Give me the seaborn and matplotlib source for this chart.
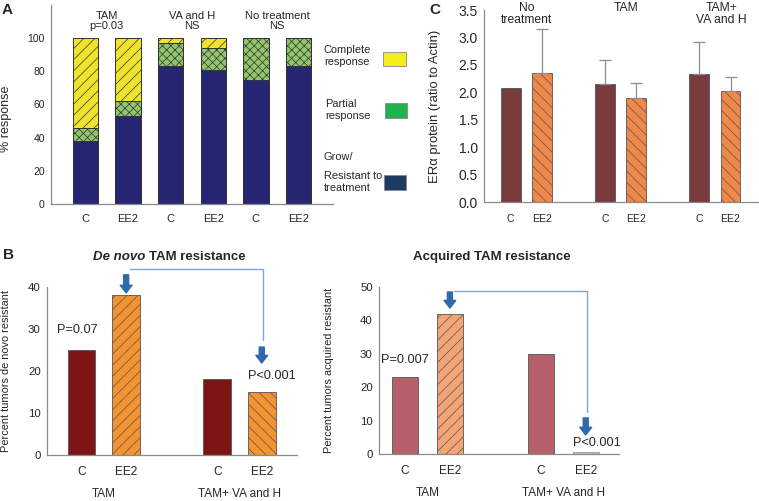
import numpy as np
import pandas as pd
import matplotlib
matplotlib.use('Agg')
import matplotlib.pyplot as plt
from matplotlib.patches import Rectangle
import seaborn as sns

# Panel A: response of tumours (% of animals), C = control diet, EE2 = EE2 diet
A_GROUPS = ['TAM', 'VA and H', 'No treatment']
A_NOTES = ['p=0.03', 'NS', 'NS']
A_DIETS = ['C', 'EE2']
A_RESISTANT = [38, 53, 83, 81, 75, 83]
A_PARTIAL = [8, 9, 14, 13, 25, 17]
A_COMPLETE = [54, 38, 3, 6, 0, 0]

# Panel C: ERa protein (ratio to actin), mean and upper error
C_GROUPS = ['No\ntreatment', 'TAM', 'TAM+\nVA and H']
C_CONTROL = [2.07, 2.15, 2.33]
C_EE2 = [2.35, 1.90, 2.03]
C_CONTROL_ERR = [0.0, 0.44, 0.58]
C_EE2_ERR = [0.80, 0.27, 0.25]

# Panel B: percent of tumours resistant
B_GROUPS = ['TAM', 'TAM+ VA and H']
B_DENOVO_C = [25, 18]
B_DENOVO_EE2 = [38, 15]
B_ACQUIRED_C = [23, 30]
B_ACQUIRED_EE2 = [42, 0.5]

sns.set_style('white')
plt.rcParams['font.family'] = ['Liberation Sans', 'DejaVu Sans']
plt.rcParams['hatch.linewidth'] = 0.5

W, H = 759, 501
fig = plt.figure(figsize=(W / 100, H / 100), dpi=100)

BLUE = '#2F6BAA'
LINE_BLUE = '#7FA6D4'
GREY = '#8a8a8a'


def add_axes_px(left, top, right, bottom):
    return fig.add_axes([left / W, 1 - bottom / H, (right - left) / W, (bottom - top) / H])


def fig_xy(x, y):
    return x / W, 1 - y / H


def style_axes(ax, ytick_size, xtick_size, xpad):
    sns.despine(ax=ax)
    for side in ['left', 'bottom']:
        ax.spines[side].set_color(GREY)
        ax.spines[side].set_linewidth(0.9)
    ax.tick_params(axis='y', length=3, width=0.8, color=GREY, labelsize=ytick_size, pad=1.5)
    ax.tick_params(axis='x', length=0, labelsize=xtick_size, pad=xpad)
    ax.set_xlabel('')


def pair_bars(ax, groups, control, treated, colours, width, gap):
    df = pd.DataFrame({'group': groups * 2,
                       'diet': ['C'] * len(groups) + ['EE2'] * len(groups),
                       'value': control + treated})
    sns.barplot(data=df, x='group', y='value', hue='diet', palette=colours,
                width=width, gap=gap, saturation=1, edgecolor='#555555',
                linewidth=0.6, legend=False, ax=ax)
    bars = sorted(ax.patches, key=lambda p: p.get_x())
    ax.set_xticks([p.get_x() + p.get_width() / 2 for p in bars])
    ax.set_xticklabels(['C', 'EE2'] * len(groups))
    return bars


def down_arrow(ax, x, top, tip):
    ax.annotate('', xy=(x, tip), xytext=(x, top), annotation_clip=False,
                arrowprops=dict(arrowstyle='simple,head_width=0.85,head_length=0.55,tail_width=0.36',
                                fc=BLUE, ec=BLUE, shrinkA=0, shrinkB=0))


def centre(p):
    return p.get_x() + p.get_width() / 2


# ---------------- Panel A ----------------
axA = add_axes_px(51, 5, 333, 204)
keys = [f'{g} {d}' for g in A_GROUPS for d in A_DIETS]
res = np.array(A_RESISTANT)
part = np.array(A_PARTIAL)
comp = np.array(A_COMPLETE)
layers = [(res + part + comp, '#EFE32B', '///'),
          (res + part, '#92C66A', 'xxxx'),
          (res, '#262673', '')]
for heights, colour, hatch in layers:
    sns.barplot(x=keys, y=heights, color=colour, width=0.6, saturation=1,
                edgecolor='#333333', linewidth=0.7, hatch=hatch, ax=axA)
style_axes(axA, 7.5, 8, 7)
axA.set_xlim(-0.81, 5.81)
axA.set_ylim(0, 120)
axA.set_yticks(range(0, 101, 20))
axA.set_xticks(range(len(keys)))
axA.set_xticklabels(A_DIETS * len(A_GROUPS))
axA.set_ylabel('% response', fontsize=9)
axA.yaxis.label.set_va('center')
axA.yaxis.set_label_coords(-0.158, 0.43)
for i, (g, n) in enumerate(zip(A_GROUPS, A_NOTES)):
    axA.text(2 * i + 0.5, 110.5, f'{g}\n{n}', ha='center', va='center',
             fontsize=8, linespacing=1.05)

# legend for panel A, drawn by hand as in the original
legend_rows = [('Complete\nresponse', 324, 56, '#F5EC1B', (383, 52, 406, 66)),
               ('Partial\nresponse', 325, 110, '#22B14C', (385, 103, 407, 118)),
               ('Resistant to\ntreatment', 324, 182, '#1F3A63', (384, 175, 406, 190))]
for label, tx, ty, colour, (x0, y0, x1, y1) in legend_rows:
    fig.text(*fig_xy(tx, ty), label, ha='left', va='center', fontsize=7.9)
    fig.add_artist(Rectangle(fig_xy(x0, y1), (x1 - x0) / W, (y1 - y0) / H,
                             transform=fig.transFigure, facecolor=colour,
                             edgecolor='#888888', linewidth=0.6))
fig.text(*fig_xy(323, 157), 'Grow/', ha='left', va='center', fontsize=7.9)

# ---------------- Panel C ----------------
axC = add_axes_px(484, 10, 759, 202)
barsC = pair_bars(axC, C_GROUPS, C_CONTROL, C_EE2, ['#7A3B3D', '#F0884A'], 0.667, 0.37)
errs = [e for pair in zip(C_CONTROL_ERR, C_EE2_ERR) for e in pair]
for i, (bar, err) in enumerate(zip(barsC, errs)):
    if i % 2 == 1:
        bar.set_hatch('\\' * 3)
    if err > 0:
        axC.errorbar(centre(bar), bar.get_height(), yerr=[[0], [err]], fmt='none',
                     ecolor='#8c8c8c', elinewidth=0.9, capsize=4, capthick=0.9)
style_axes(axC, 10, 7.6, 9)
axC.set_xlim(-0.449, 2.469)
axC.set_ylim(0, 3.5)
axC.set_yticks(np.arange(0, 3.51, 0.5))
axC.set_yticklabels([f'{v:.1f}' for v in np.arange(0, 3.51, 0.5)])
axC.set_ylabel('ERα protein (ratio to Actin)', fontsize=9.4)
axC.yaxis.label.set_va('center')
axC.yaxis.set_label_coords(-0.178, 0.5)
for i, (g, y) in enumerate(zip(C_GROUPS, [3.43, 3.54, 3.43])):
    axC.text(i + [0, 0.06, 0.07][i], y, g, ha='center', va='center',
             fontsize=8.7, linespacing=1.05, clip_on=False)

# ---------------- Panel B, de novo ----------------
axB1 = add_axes_px(47, 287, 297, 455)
barsB1 = pair_bars(axB1, B_GROUPS, B_DENOVO_C, B_DENOVO_EE2, ['#7D1416', '#F39332'], 0.657, 0.38)
barsB1[1].set_hatch('///')
barsB1[3].set_hatch('\\' * 3)
style_axes(axB1, 8.2, 8.6, 8)
axB1.set_xlim(-0.419, 1.424)
axB1.set_ylim(0, 40)
axB1.set_yticks(range(0, 41, 10))
axB1.set_ylabel('Percent tumors de novo resistant', fontsize=7.9)
axB1.yaxis.label.set_va('center')
axB1.yaxis.set_label_coords(-0.165, 0.5)

h1, h2 = barsB1[1].get_height(), barsB1[3].get_height()
x1, x2 = centre(barsB1[1]), centre(barsB1[3])
down_arrow(axB1, x1, h1 + 4.9, h1 + 0.6)
axB1.plot([x1 + 0.03, x2 + 0.007, x2 + 0.007], [h1 + 6.3, h1 + 6.3, h2 + 12.4],
          color=LINE_BLUE, linewidth=1, clip_on=False)
down_arrow(axB1, x2, h2 + 10.7, h2 + 6.9)
axB1.text(centre(barsB1[0]) - 0.03, barsB1[0].get_height() + 4.8, 'P=0.07',
          ha='center', va='center', fontsize=9.2)
axB1.text(x2 + 0.077, h2 + 3.8, 'P<0.001', ha='center', va='center', fontsize=9.2)

t1 = axB1.text(0.184, 1.179, 'De novo', transform=axB1.transAxes, ha='left', va='center',
               fontsize=9.5, fontweight='bold', fontstyle='italic')
axB1.annotate('TAM resistance', xy=(1, 0.5), xycoords=t1, xytext=(2.6, 0),
              textcoords='offset points', ha='left', va='center',
              fontsize=9.5, fontweight='bold')

# ---------------- Panel B, acquired ----------------
axB2 = add_axes_px(379, 287, 619, 454)
barsB2 = pair_bars(axB2, B_GROUPS, B_ACQUIRED_C, B_ACQUIRED_EE2, ['#B5606B', '#F4A575'], 0.66, 0.41)
barsB2[1].set_hatch('///')
barsB2[3].set_facecolor('#c8c8c8')
barsB2[3].set_edgecolor('#999999')
barsB2[3].set_hatch('....')
style_axes(axB2, 8.2, 8.6, 8)
axB2.set_xlim(-0.357, 1.41)
axB2.set_ylim(0, 50)
axB2.set_yticks(range(0, 51, 10))
axB2.set_ylabel('Percent tumors acquired resistant', fontsize=7.9)
axB2.yaxis.label.set_va('center')
axB2.yaxis.set_label_coords(-0.208, 0.5)

h1, h2 = barsB2[1].get_height(), barsB2[3].get_height()
x1, x2 = centre(barsB2[1]), centre(barsB2[3])
down_arrow(axB2, x1, h1 + 6.5, h1 + 1.7)
axB2.plot([x1 + 0.03, x2 + 0.007, x2 + 0.007], [h1 + 6.8, h1 + 6.8, h2 + 12.1],
          color=LINE_BLUE, linewidth=1, clip_on=False)
down_arrow(axB2, x2, h2 + 10.3, h2 + 5.2)
axB2.text(centre(barsB2[0]), barsB2[0].get_height() + 5.1, 'P=0.007',
          ha='center', va='center', fontsize=9.2)
axB2.text(x2 + 0.08, h2 + 2.8, 'P<0.001', ha='center', va='center', fontsize=9.2)
axB2.text(0.471, 1.18, 'Acquired TAM resistance', transform=axB2.transAxes,
          ha='center', va='center', fontsize=9.5, fontweight='bold')

# group labels under panel B
for ax in (axB1, axB2):
    for i, g in enumerate(B_GROUPS):
        ax.annotate(g, xy=(i, 0), xycoords=('data', 'axes fraction'), xytext=(0, -28.3),
                    textcoords='offset points', ha='center', va='center', fontsize=8.5)

# panel letters
for letter, x, y in [('A', 7, 10), ('B', 8, 255), ('C', 435, 10)]:
    fig.text(*fig_xy(x, y), letter, ha='center', va='center', fontsize=11, fontweight='bold')

fig.savefig('out.png', dpi=100)
